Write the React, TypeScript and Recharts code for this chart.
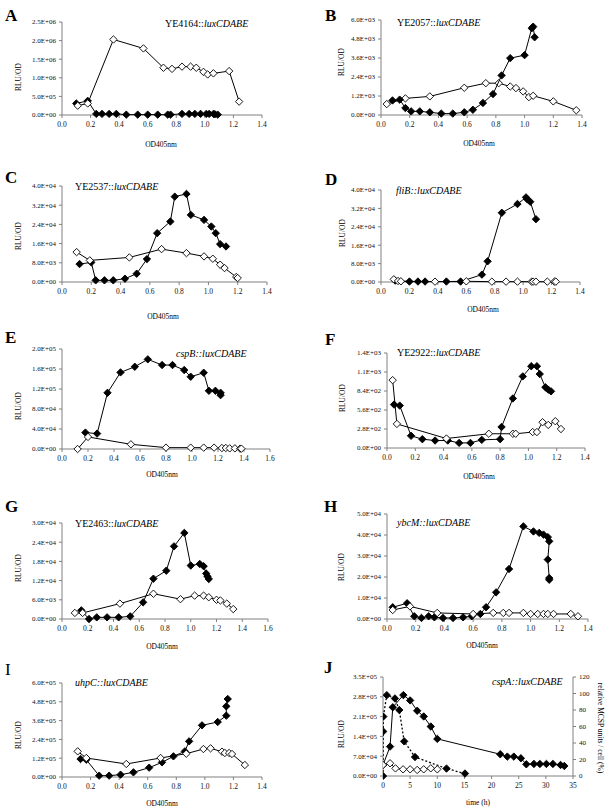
import React from 'react';
import { ScatterChart, Scatter, XAxis, YAxis } from 'recharts';

type Pt = [number, number];

// ---- data: [OD405nm or time, value] ----
const aFilled: Pt[] = [[0.10, 3.1e5], [0.18, 3.8e5], [0.24, 30000], [0.28, 30000], [0.33, 30000], [0.38, 30000], [0.45, 10000], [0.53, 10000], [0.60, 10000], [0.67, 10000], [0.74, 10000], [0.76, 10000], [0.84, 30000], [0.89, 30000], [0.93, 30000], [0.97, 30000], [1.01, 30000], [1.03, 30000], [1.06, 30000], [1.07, 20000], [1.09, 10000]];
const aOpen: Pt[] = [[0.11, 2.5e5], [0.18, 3.1e5], [0.36, 2.03e6], [0.57, 1.79e6], [0.71, 1.27e6], [0.77, 1.24e6], [0.84, 1.3e6], [0.90, 1.3e6], [0.94, 1.27e6], [0.99, 1.16e6], [1.02, 1.09e6], [1.06, 1.12e6], [1.17, 1.18e6], [1.24, 3.6e5]];

const bFilled: Pt[] = [[0.08, 920], [0.13, 970], [0.17, 440], [0.21, 230], [0.27, 230], [0.34, 170], [0.42, 90], [0.50, 90], [0.58, 170], [0.64, 330], [0.71, 760], [0.78, 1320], [0.84, 2500], [0.90, 3590], [1.00, 3780], [1.05, 5480], [1.06, 5580], [1.07, 4910]];
const bOpen: Pt[] = [[0.04, 690], [0.17, 1050], [0.34, 1175], [0.58, 1720], [0.73, 2010], [0.82, 2010], [0.90, 1800], [0.94, 1700], [0.99, 1490], [1.03, 1130], [1.06, 1215], [1.20, 860], [1.36, 300]];

const cFilled: Pt[] = [[0.12, 7470], [0.20, 8170], [0.23, 700], [0.29, 700], [0.35, 700], [0.43, 1380], [0.51, 3460], [0.58, 9550], [0.65, 20350], [0.74, 25190], [0.77, 35570], [0.85, 36680], [0.88, 27960], [0.97, 25880], [1.02, 23110], [1.05, 20350], [1.08, 15780], [1.12, 14810]];
const cOpen: Pt[] = [[0.10, 12460], [0.19, 9000], [0.46, 10240], [0.68, 13700], [0.85, 12040], [0.97, 10660], [1.03, 9690], [1.08, 7200], [1.11, 5810], [1.19, 2080], [1.20, 1660]];

const dFilled: Pt[] = [[0.10, 600], [0.20, 200], [0.26, 200], [0.31, 200], [0.46, 200], [0.56, 200], [0.71, 3200], [0.75, 9000], [0.85, 30100], [0.96, 33900], [1.02, 36800], [1.03, 35900], [1.05, 34900], [1.09, 27300]];
const dOpen: Pt[] = [[0.09, 1160], [0.12, 440], [0.14, 300], [0.38, 150], [0.60, 300], [0.78, 150], [0.88, 150], [0.96, 150], [1.06, 150], [1.07, 150], [1.09, 150], [1.17, 150], [1.22, 150], [1.23, 150]];

const eFilled: Pt[] = [[0.18, 32800], [0.27, 30800], [0.35, 112400], [0.45, 153200], [0.56, 164500], [0.66, 179300], [0.77, 167900], [0.85, 167900], [0.94, 157900], [0.99, 144500], [1.09, 152500], [1.13, 116400], [1.18, 116400], [1.22, 112400], [1.22, 107700]];
const eOpen: Pt[] = [[0.12, 0], [0.20, 24100], [0.53, 9400], [0.80, 2700], [0.99, 2700], [1.09, 2700], [1.17, 2700], [1.23, 2000], [1.26, 2000], [1.29, 1300], [1.33, 1300], [1.37, 700], [1.38, 700]];

const fFilled: Pt[] = [[0.05, 640], [0.09, 625], [0.17, 180], [0.25, 130], [0.34, 110], [0.43, 110], [0.51, 75], [0.59, 75], [0.67, 120], [0.80, 130], [0.81, 310], [0.89, 730], [0.96, 1055], [1.02, 1205], [1.06, 1205], [1.08, 1090], [1.12, 895], [1.14, 860], [1.16, 835]];
const fOpen: Pt[] = [[0.04, 1000], [0.07, 355], [0.42, 140], [0.72, 210], [0.89, 210], [0.91, 210], [1.03, 235], [1.06, 235], [1.10, 380], [1.14, 340], [1.19, 395], [1.23, 280]];

const gFilled: Pt[] = [[0.15, 2700], [0.21, 0], [0.27, 520], [0.35, 520], [0.44, 520], [0.53, 830], [0.63, 5200], [0.71, 12600], [0.81, 15100], [0.87, 22700], [0.95, 26900], [1.00, 16700], [1.07, 17200], [1.10, 16500], [1.12, 14200], [1.13, 13300], [1.14, 12500]];
const gOpen: Pt[] = [[0.10, 1900], [0.16, 1900], [0.45, 4800], [0.71, 7900], [0.92, 6200], [1.03, 7300], [1.10, 7300], [1.14, 6800], [1.20, 6000], [1.23, 5800], [1.28, 4800], [1.33, 3100]];

const hFilled: Pt[] = [[0.04, 5600], [0.14, 7500], [0.19, 1300], [0.24, 500], [0.29, 1300], [0.33, 800], [0.39, 500], [0.46, 500], [0.53, 800], [0.59, 1300], [0.65, 2400], [0.69, 5600], [0.76, 12700], [0.85, 23800], [0.95, 44100], [1.02, 41700], [1.06, 41000], [1.09, 40200], [1.12, 39000], [1.13, 37000], [1.12, 28300], [1.13, 19500], [1.13, 18700]];
const hOpen: Pt[] = [[0.04, 4300], [0.16, 6000], [0.35, 2900], [0.60, 2400], [0.74, 2900], [0.81, 2900], [0.85, 2900], [0.95, 2900], [1.00, 2400], [1.05, 2400], [1.09, 2400], [1.12, 2400], [1.16, 2400], [1.28, 2400], [1.33, 1300]];

const iFilled: Pt[] = [[0.13, 114900], [0.17, 110600], [0.26, 8500], [0.33, 8500], [0.41, 14900], [0.50, 29800], [0.61, 59600], [0.70, 93600], [0.78, 131900], [0.86, 163800], [0.89, 227700], [0.98, 329800], [1.09, 351100], [1.15, 391500], [1.15, 451100], [1.16, 497900]];
const iOpen: Pt[] = [[0.11, 163800], [0.17, 121300], [0.45, 83000], [0.69, 121300], [0.87, 148900], [0.99, 178700], [1.04, 183000], [1.12, 161700], [1.14, 153200], [1.17, 153200], [1.19, 146800], [1.28, 76600]];

// J: time (h)
const jFilled: Pt[] = [[0, 39000], [1.3, 104000], [1.8, 243000], [3.75, 286000], [5.0, 267200], [6.3, 230600], [7.5, 210500], [8.8, 175000], [10.0, 131200], [21.6, 76900], [22.9, 68600], [24.1, 68600], [25.4, 62700], [26.4, 41400], [27.8, 42600], [28.9, 42600], [30.1, 42600], [31.3, 42600], [32.7, 39000], [33.4, 35500]];
const jOpen: Pt[] = [[0, 39000], [1.3, 45000], [2.3, 27000], [3.7, 23600], [5.0, 23600], [6.3, 21300], [7.5, 23600], [8.8, 27200], [10.0, 23600]];
const jMcsp: Pt[] = [[0, 0], [0.03, 54], [0.06, 72], [0.7, 98], [2.2, 94], [3.0, 80], [3.9, 42], [5.9, 23], [11.7, 9], [15.1, 3]];

// ---- ticks ----
const od14 = [0, 0.2, 0.4, 0.6, 0.8, 1.0, 1.2, 1.4];
const od16 = [0, 0.2, 0.4, 0.6, 0.8, 1.0, 1.2, 1.4, 1.6];
const hours = [0, 5, 10, 15, 20, 25, 30, 35];
const aY = [0, 5e5, 1e6, 1.5e6, 2e6, 2.5e6];
const bY = [0, 1200, 2400, 3600, 4800, 6000];
const cdY = [0, 8000, 16000, 24000, 32000, 40000];
const eY = [0, 4e4, 8e4, 1.2e5, 1.6e5, 2e5];
const fY = [0, 280, 560, 840, 1120, 1400];
const gY = [0, 6000, 12000, 18000, 24000, 30000];
const hY = [0, 1e4, 2e4, 3e4, 4e4, 5e4];
const iY = [0, 1.2e5, 2.4e5, 3.6e5, 4.8e5, 6e5];
const jY = [0, 7e4, 1.4e5, 2.1e5, 2.8e5, 3.5e5];
const jR = [0, 20, 40, 60, 80, 100, 120];

const FONT = "'Liberation Serif', 'Times New Roman', serif";
const AX = '#808080';

const sci = (v: number) => {
  const [m, e] = v.toExponential(1).split('e');
  const n = parseInt(e, 10);
  return `${m}E${n < 0 ? '-' : '+'}${String(Math.abs(n)).padStart(2, '0')}`;
};
const od = (v: number) => v.toFixed(1);
const int = (v: number) => String(Math.round(v));

const Diamond = (props: any) => {
  const { cx, cy, filled } = props;
  if (cx == null || cy == null) return null;
  const r = 3.7;
  return (
    <path
      d={`M${cx},${cy - r}L${cx + r},${cy}L${cx},${cy + r}L${cx - r},${cy}Z`}
      fill={filled ? '#000' : '#fff'}
      stroke="#000"
      strokeWidth={0.9}
    />
  );
};

type Series = { pts: Pt[]; filled: boolean; dashed?: boolean; right?: boolean };

function Panel({ box, xTicks, xFmt, yTicks, series, rTicks }: any) {
  const [l, t, r, b] = box;
  const YW = 50, TM = 8, XH = 22;
  const RW = rTicks ? 26 : 12;
  const w = r - l + YW + RW;
  const h = b - t + TM + XH;
  const tickStyle = { fontSize: 7, fill: '#111', fontFamily: FONT };
  return (
    <div style={{ position: 'absolute', left: l - YW, top: t - TM }}>
      <ScatterChart
        width={w}
        height={h}
        style={{ fontFamily: FONT }}
        margin={{ top: TM, right: rTicks ? 0 : RW, left: 0, bottom: 0 }}
      >
        <XAxis
          type="number"
          dataKey="x"
          domain={[0, xTicks[xTicks.length - 1]]}
          ticks={xTicks}
          interval={0}
          tickFormatter={xFmt}
          height={XH}
          stroke={AX}
          tickSize={3}
          tickMargin={4}
          tick={{ ...tickStyle, fontSize: 7.5 }}
          allowDataOverflow
        />
        <YAxis
          yAxisId="l"
          type="number"
          dataKey="y"
          domain={[0, yTicks[yTicks.length - 1]]}
          ticks={yTicks}
          interval={0}
          tickFormatter={sci}
          width={YW}
          stroke={AX}
          tickSize={3}
          tickMargin={3}
          tick={tickStyle}
        />
        {rTicks && (
          <YAxis
            yAxisId="r"
            orientation="right"
            type="number"
            dataKey="y"
            domain={[0, rTicks[rTicks.length - 1]]}
            ticks={rTicks}
            interval={0}
            tickFormatter={int}
            width={RW}
            stroke={AX}
            tickSize={3}
            tickMargin={3}
            tick={tickStyle}
          />
        )}
        {series.map((s: Series, i: number) => (
          <Scatter
            key={i}
            yAxisId={s.right ? 'r' : 'l'}
            data={s.pts.map(([x, y]) => ({ x, y }))}
            fill={s.filled ? '#000' : '#fff'}
            line={{ stroke: '#000', strokeWidth: s.dashed ? 1.3 : 1, strokeDasharray: s.dashed ? '2 2' : undefined }}
            shape={(p: any) => <Diamond {...p} filled={s.filled} />}
            isAnimationActive={false}
          />
        ))}
      </ScatterChart>
    </div>
  );
}

const Txt = ({ x, y, size = 7.5, children, anchor = 'start', bold, italic, rot }: any) => (
  <div
    style={{
      position: 'absolute',
      left: x,
      top: y,
      fontSize: size,
      lineHeight: 1,
      whiteSpace: 'nowrap',
      fontWeight: bold ? 'bold' : 'normal',
      fontStyle: italic ? 'italic' : 'normal',
      transform: `translate(${anchor === 'middle' || rot ? '-50%' : '0'}, -50%)${rot ? ` rotate(${rot}deg)` : ''}`,
    }}
  >
    {children}
  </div>
);

const lux = <i>luxCDABE</i>;

export default function App() {
  return (
    <div style={{ position: 'absolute', left: 0, top: 0, width: 608, height: 810, background: '#fff', fontFamily: FONT, color: '#000', overflow: 'hidden' }}>
      <Panel box={[62, 22, 262, 115]} xTicks={od14} xFmt={od} yTicks={aY} series={[{ pts: aFilled, filled: true }, { pts: aOpen, filled: false }]} />
      <Panel box={[381, 20, 582, 115]} xTicks={od14} xFmt={od} yTicks={bY} series={[{ pts: bOpen, filled: false }, { pts: bFilled, filled: true }]} />
      <Panel box={[62, 186, 267, 282]} xTicks={od14} xFmt={od} yTicks={cdY} series={[{ pts: cFilled, filled: true }, { pts: cOpen, filled: false }]} />
      <Panel box={[381, 190, 580, 282]} xTicks={od14} xFmt={od} yTicks={cdY} series={[{ pts: dFilled, filled: true }, { pts: dOpen, filled: false }]} />
      <Panel box={[62, 349, 270, 449]} xTicks={od16} xFmt={od} yTicks={eY} series={[{ pts: eFilled, filled: true }, { pts: eOpen, filled: false }]} />
      <Panel box={[387, 353, 585, 448]} xTicks={od14} xFmt={od} yTicks={fY} series={[{ pts: fFilled, filled: true }, { pts: fOpen, filled: false }]} />
      <Panel box={[62, 523, 268, 619]} xTicks={od16} xFmt={od} yTicks={gY} series={[{ pts: gFilled, filled: true }, { pts: gOpen, filled: false }]} />
      <Panel box={[387, 514, 588, 619]} xTicks={od14} xFmt={od} yTicks={hY} series={[{ pts: hFilled, filled: true }, { pts: hOpen, filled: false }]} />
      <Panel box={[62, 683, 262, 777]} xTicks={od14} xFmt={od} yTicks={iY} series={[{ pts: iFilled, filled: true }, { pts: iOpen, filled: false }]} />
      <Panel
        box={[383, 677, 573, 776]}
        xTicks={hours}
        xFmt={int}
        yTicks={jY}
        rTicks={jR}
        series={[{ pts: jMcsp, filled: true, dashed: true, right: true }, { pts: jFilled, filled: true }, { pts: jOpen, filled: false }]}
      />

      {/* panel letters */}
      <Txt x={5} y={15} size={17} bold>A</Txt>
      <Txt x={325} y={15} size={17} bold>B</Txt>
      <Txt x={5} y={177} size={17} bold>C</Txt>
      <Txt x={325} y={179} size={17} bold>D</Txt>
      <Txt x={5} y={337} size={17} bold>E</Txt>
      <Txt x={325} y={339} size={17} bold>F</Txt>
      <Txt x={5} y={506} size={17} bold>G</Txt>
      <Txt x={324} y={506} size={17} bold>H</Txt>
      <Txt x={5} y={669} size={17}>I</Txt>
      <Txt x={324} y={667} size={17} bold>J</Txt>

      {/* construct names */}
      <Txt x={165} y={24} size={10}>YE4164::{lux}</Txt>
      <Txt x={397} y={23} size={10}>YE2057::{lux}</Txt>
      <Txt x={75} y={187} size={10}>YE2537::{lux}</Txt>
      <Txt x={396} y={191} size={10} italic>fliB::luxCDABE</Txt>
      <Txt x={176} y={354} size={10} italic>cspB::luxCDABE</Txt>
      <Txt x={397} y={353} size={10}>YE2922::{lux}</Txt>
      <Txt x={75} y={524} size={10}>YE2463::{lux}</Txt>
      <Txt x={397} y={523} size={10} italic>ybcM::luxCDABE</Txt>
      <Txt x={75} y={683} size={10} italic>uhpC::luxCDABE</Txt>
      <Txt x={492} y={682} size={10} italic>cspA::luxCDABE</Txt>

      {/* y titles */}
      <Txt x={19} y={77} rot={-90}>RLU/OD</Txt>
      <Txt x={342} y={62} rot={-90}>RLU/OD</Txt>
      <Txt x={19} y={236} rot={-90}>RLU/OD</Txt>
      <Txt x={343} y={233} rot={-90}>RLU/OD</Txt>
      <Txt x={19} y={406} rot={-90}>RLU/OD</Txt>
      <Txt x={343} y={398} rot={-90}>RLU/OD</Txt>
      <Txt x={19} y={568} rot={-90}>RLU/OD</Txt>
      <Txt x={342} y={567} rot={-90}>RLU/OD</Txt>
      <Txt x={19} y={735} rot={-90}>RLU/OD</Txt>
      <Txt x={342} y={734} rot={-90}>RLU/OD</Txt>
      <Txt x={600} y={728} rot={90}>relative MCSP units / cell (%)</Txt>

      {/* x titles */}
      <Txt x={161} y={145} anchor="middle">OD405nm</Txt>
      <Txt x={479} y={144} anchor="middle">OD405nm</Txt>
      <Txt x={163} y={317} anchor="middle">OD405nm</Txt>
      <Txt x={483} y={310} anchor="middle">OD405nm</Txt>
      <Txt x={162} y={475} anchor="middle">OD405nm</Txt>
      <Txt x={479} y={477} anchor="middle">OD405nm</Txt>
      <Txt x={162} y={647} anchor="middle">OD405nm</Txt>
      <Txt x={482} y={646} anchor="middle">OD405nm</Txt>
      <Txt x={162} y={804} anchor="middle">OD405nm</Txt>
      <Txt x={478} y={803} anchor="middle">time (h)</Txt>
    </div>
  );
}
